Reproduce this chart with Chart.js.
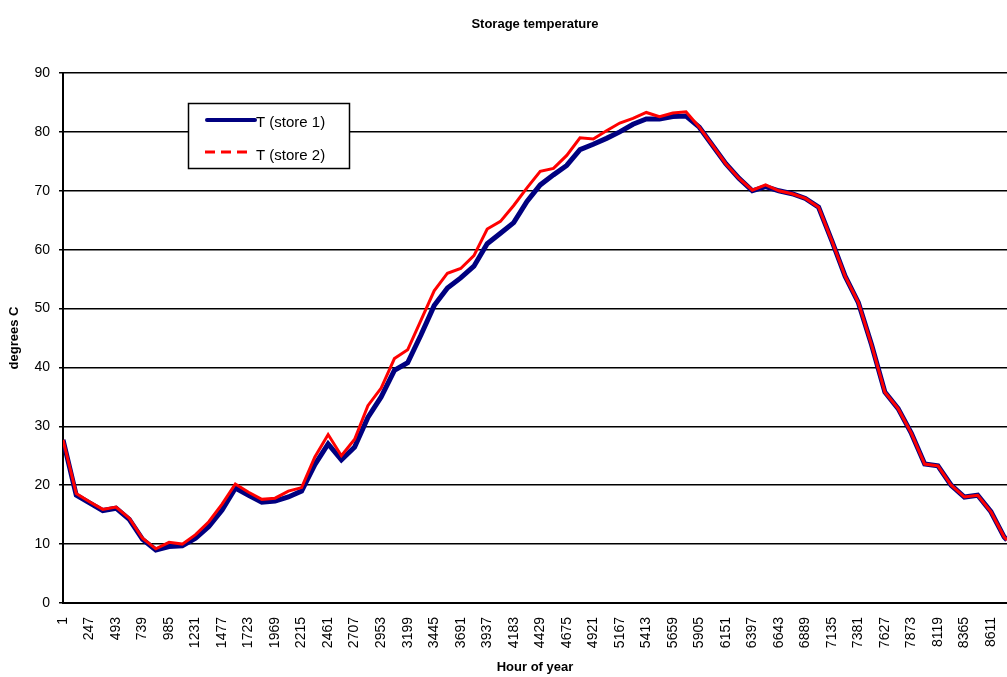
<!DOCTYPE html>
<html>
<head>
<meta charset="utf-8">
<title>Storage temperature</title>
<script src="https://cdn.jsdelivr.net/npm/chart.js@4"></script>
<style>
    body { margin: 0; background: #fff; }
    #wrap { position: relative; width: 1007px; height: 677px; }
</style>
</head>
<body>
<div id="wrap"><canvas id="chart"></canvas></div>
<script>
// hour of year for each sampled point
const hours = [1, 124, 247, 370, 493, 616, 739, 862, 985, 1108, 1231, 1354, 1477, 1600, 1723, 1846,
    1969, 2092, 2215, 2338, 2461, 2584, 2707, 2830, 2953, 3076, 3199, 3322, 3445, 3568, 3691, 3814,
    3937, 4060, 4183, 4306, 4429, 4552, 4675, 4798, 4921, 5044, 5167, 5290, 5413, 5536, 5659, 5782,
    5905, 6028, 6151, 6274, 6397, 6520, 6643, 6766, 6889, 7012, 7135, 7258, 7381, 7504, 7627, 7750,
    7873, 7996, 8119, 8242, 8365, 8488, 8611, 8734, 8760];

const store1 = [27.7, 18.3, 17.0, 15.7, 16.1, 14.2, 10.8, 9.0, 9.6, 9.7, 11.0, 13.0, 15.8, 19.5, 18.3, 17.1,
    17.3, 18.0, 19.0, 23.5, 27.0, 24.3, 26.5, 31.5, 35.0, 39.5, 40.8, 45.5, 50.5, 53.5, 55.2, 57.2,
    61.0, 62.8, 64.6, 68.2, 71.0, 72.7, 74.3, 77.0, 77.9, 78.9, 80.0, 81.3, 82.2, 82.2, 82.6, 82.7,
    80.8, 77.7, 74.6, 72.1, 70.0, 70.7, 70.0, 69.5, 68.7, 67.2, 61.5, 55.5, 51.0, 43.8, 35.8, 33.0,
    28.8, 23.6, 23.3, 20.0, 18.0, 18.3, 15.5, 11.2, 10.7];

const store2 = [27.7, 18.6, 17.2, 15.9, 16.3, 14.4, 11.0, 9.2, 10.3, 10.0, 11.6, 13.8, 16.8, 20.2, 18.8, 17.6,
    17.8, 19.0, 19.6, 24.8, 28.6, 25.0, 27.8, 33.5, 36.5, 41.5, 43.0, 48.0, 53.0, 56.0, 56.8, 59.0,
    63.5, 64.8, 67.5, 70.5, 73.3, 73.8, 76.0, 79.0, 78.8, 80.2, 81.5, 82.3, 83.3, 82.6, 83.2, 83.4,
    80.8, 77.7, 74.6, 72.1, 70.1, 71.0, 70.0, 69.5, 68.7, 67.2, 61.5, 55.5, 51.0, 43.8, 35.8, 33.0,
    28.8, 23.6, 23.3, 20.0, 18.0, 18.3, 15.5, 11.2, 10.7];

// labels shown under the x axis
const hourTicks = [1, 247, 493, 739, 985, 1231, 1477, 1723, 1969, 2215, 2461, 2707, 2953, 3199, 3445,
    3691, 3937, 4183, 4429, 4675, 4921, 5167, 5413, 5659, 5905, 6151, 6397, 6643, 6889, 7135, 7381,
    7627, 7873, 8119, 8365, 8611];

const seriesNames = ['T (store 1)', 'T (store 2)'];

const FONT = 'Arial, "Liberation Sans", sans-serif';

// legend box drawn inside the plot, like the Excel original
const boxLegend = {
    id: 'boxLegend',
    afterDraw(chart) {
        const c = chart.ctx;
        c.save();
        c.fillStyle = '#fff';
        c.fillRect(188, 103, 161, 65);
        c.strokeStyle = '#000';
        c.lineWidth = 1.5;
        c.strokeRect(188.5, 103.5, 161, 65);

        c.lineCap = 'round';
        c.strokeStyle = '#000080';
        c.lineWidth = 4;
        c.beginPath(); c.moveTo(207, 120); c.lineTo(255, 120); c.stroke();

        c.lineCap = 'butt';
        c.strokeStyle = '#ff0000';
        c.lineWidth = 3;
        c.setLineDash([10, 6]);
        c.beginPath(); c.moveTo(205, 152); c.lineTo(252, 152); c.stroke();
        c.setLineDash([]);

        c.fillStyle = '#000';
        c.font = '15px ' + FONT;
        c.textBaseline = 'middle';
        c.fillText(seriesNames[0], 256, 123);
        c.fillText(seriesNames[1], 256, 156);
        c.restore();
    }
};

const ctx = document.getElementById('chart').getContext('2d');
const myChart = new Chart(ctx, {
    type: 'line',
    data: {
        datasets: [{
            label: seriesNames[0],
            data: hours.map((h, i) => ({ x: h, y: store1[i] })),
            borderColor: '#000080',
            borderWidth: 5,
            pointRadius: 0,
            tension: 0,
            order: 1,
        }, {
            label: seriesNames[1],
            data: hours.map((h, i) => ({ x: h, y: store2[i] })),
            borderColor: '#ff0000',
            borderWidth: 3,
            pointRadius: 0,
            tension: 0,
            order: 0, // red drawn over blue
        }]
    },
    options: {
        responsive: true,
        maintainAspectRatio: false,
        animation: false,
        layout: { padding: 0 },
        plugins: {
            legend: { display: false },
            tooltip: { enabled: false },
            title: {
                display: true,
                text: 'Storage temperature',
                color: '#000',
                fullSize: false,
                font: { family: FONT, size: 13, weight: 'bold' },
                padding: { top: 17, bottom: 40.4 },
            },
        },
        scales: {
            x: {
                type: 'linear',
                min: 1,
                max: 8760,
                afterBuildTicks: scale => {
                    scale.ticks = hourTicks.map(v => ({ value: v }));
                },
                afterFit: scale => {
                    scale.height = 74;
                    scale.paddingLeft = 0;
                    scale.paddingRight = 0;
                },
                grid: { display: false, drawTicks: false },
                border: { display: true, color: '#000', width: 2 },
                ticks: {
                    color: '#000',
                    font: { family: FONT, size: 14 },
                    minRotation: 90,
                    maxRotation: 90,
                    padding: 14,
                    autoSkip: false,
                    callback: v => String(v),
                },
                title: {
                    display: true,
                    text: 'Hour of year',
                    color: '#000',
                    font: { family: FONT, size: 13, weight: 'bold' },
                    padding: { top: 0, bottom: 2 },
                },
            },
            y: {
                min: 0,
                max: 90,
                afterFit: scale => { scale.width = 63; },
                grid: { color: '#000', lineWidth: 1.5, tickLength: 4 },
                border: { display: true, color: '#000', width: 2 },
                ticks: {
                    stepSize: 10,
                    color: '#000',
                    font: { family: FONT, size: 14 },
                    padding: 9,
                },
                title: {
                    display: true,
                    text: 'degrees C',
                    color: '#000',
                    font: { family: FONT, size: 13, weight: 'bold' },
                    padding: { top: 7, bottom: 0 },
                },
            }
        }
    },
    plugins: [boxLegend]
});
</script>
</body>
</html>
